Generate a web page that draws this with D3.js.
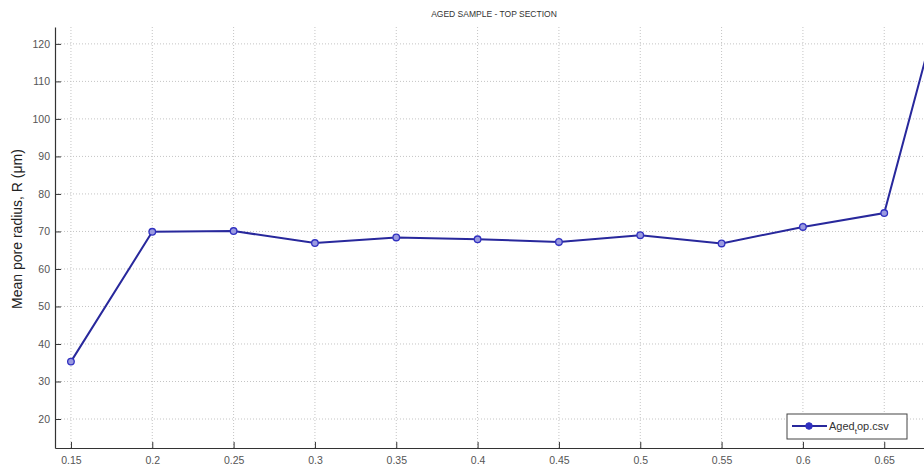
<!DOCTYPE html>
<html>
<head>
<meta charset="utf-8">
<script src="https://cdn.jsdelivr.net/npm/d3@7/dist/d3.min.js"></script>
<style>
  html, body { margin: 0; padding: 0; background: #fff; }
  svg { display: block; }
  text { font-family: "Liberation Sans", Arial, sans-serif; }
</style>
</head>
<body>
<svg id="chart" width="924" height="467"></svg>
<script>
const title = "AGED SAMPLE - TOP SECTION";
const yLabel = "Mean pore radius, R (\u03bcm)";
const xValues = [0.15, 0.2, 0.25, 0.3, 0.35, 0.4, 0.45, 0.5, 0.55, 0.6, 0.65, 0.7];
const radius  = [35.3, 69.9, 70.1, 66.9, 68.4, 67.9, 67.2, 69.0, 66.8, 71.2, 74.9, 156];
const xTicks = [0.15, 0.2, 0.25, 0.3, 0.35, 0.4, 0.45, 0.5, 0.55, 0.6, 0.65];
const xTickLabels = ["0.15","0.2","0.25","0.3","0.35","0.4","0.45","0.5","0.55","0.6","0.65"];
const yTicks = [20, 30, 40, 50, 60, 70, 80, 90, 100, 110, 120];
const legendParts = ["Aged", "t", "op.csv"];

const svg = d3.select("#chart");
const mLeft = 55, mTop = 27, mBottom = 448;
const pxPerStep = 81.33;
const x0 = 0.1402, x1 = 0.72;
const mRight = mLeft + (x1 - x0) / 0.05 * pxPerStep;

const x = d3.scaleLinear().domain([x0, x1]).range([mLeft, mRight]);
const y = d3.scaleLinear().domain([12.27, 124.5]).range([mBottom, mTop]);

svg.append("defs").append("clipPath").attr("id", "clip")
  .append("rect").attr("x", mLeft).attr("y", mTop).attr("width", mRight - mLeft).attr("height", mBottom - mTop);

// grid
const grid = svg.append("g");
grid.selectAll("line.gy").data(yTicks).join("line").attr("class", "gy")
  .attr("x1", mLeft).attr("x2", mRight)
  .attr("y1", d => y(d)).attr("y2", d => y(d))
  .attr("stroke", "#c4c4c4").attr("stroke-width", 1).attr("stroke-dasharray", "1,2");
grid.selectAll("line.gx").data(xTicks).join("line").attr("class", "gx")
  .attr("x1", d => x(d)).attr("x2", d => x(d))
  .attr("y1", mTop).attr("y2", mBottom)
  .attr("stroke", "#c4c4c4").attr("stroke-width", 1).attr("stroke-dasharray", "1,2");

// axes
const xAxis = d3.axisBottom(x).tickValues(xTicks).tickSizeInner(-6).tickSizeOuter(0)
  .tickPadding(9).tickFormat((d, i) => xTickLabels[i]);
const gx = svg.append("g").attr("transform", `translate(0,${mBottom})`).call(xAxis);
const yAxis = d3.axisLeft(y).tickValues(yTicks).tickSizeInner(-6).tickSizeOuter(0)
  .tickPadding(5).tickFormat(d3.format("d"));
const gy = svg.append("g").attr("transform", `translate(${mLeft},0)`).call(yAxis);
[gx, gy].forEach(g => {
  g.select(".domain").attr("stroke", "#333").attr("stroke-width", 1.2);
  g.selectAll(".tick line").attr("stroke", "#333");
  g.selectAll(".tick text").attr("fill", "#555").attr("font-size", 10.5);
});

// line + markers
const plot = svg.append("g").attr("clip-path", "url(#clip)");
const data = xValues.map((v, i) => ({ x: v, y: radius[i] }));
plot.append("path").datum(data)
  .attr("fill", "none").attr("stroke", "#28289c").attr("stroke-width", 2)
  .attr("d", d3.line().x(d => x(d.x)).y(d => y(d.y)));
plot.selectAll("circle").data(data).join("circle")
  .attr("cx", d => x(d.x)).attr("cy", d => y(d.y)).attr("r", 3.3)
  .attr("fill", "#9a9ae0").attr("stroke", "#3030c0").attr("stroke-width", 1.3);

// title
svg.append("text").attr("x", 494).attr("y", 17).attr("text-anchor", "middle")
  .attr("font-size", 8.5).attr("fill", "#333").text(title);

// y label
svg.append("text").attr("transform", `translate(22,229) rotate(-90)`)
  .attr("text-anchor", "middle").attr("font-size", 14).attr("fill", "#222").text(yLabel);

// legend
const lg = svg.append("g");
lg.append("rect").attr("x", 787).attr("y", 414).attr("width", 120).attr("height", 25)
  .attr("fill", "#fff").attr("stroke", "#444").attr("stroke-width", 1);
lg.append("line").attr("x1", 792).attr("x2", 827).attr("y1", 426).attr("y2", 426)
  .attr("stroke", "#28289c").attr("stroke-width", 2);
lg.append("circle").attr("cx", 809).attr("cy", 426).attr("r", 3.3)
  .attr("fill", "#3030c0").attr("stroke", "#3030c0");
const lt = lg.append("text").attr("x", 829).attr("y", 430).attr("font-size", 11).attr("fill", "#333");
lt.append("tspan").text(legendParts[0]);
lt.append("tspan").attr("font-size", 8).attr("dy", 4).text(legendParts[1]);
lt.append("tspan").attr("dy", -4).text(legendParts[2]);
</script>
</body>
</html>
